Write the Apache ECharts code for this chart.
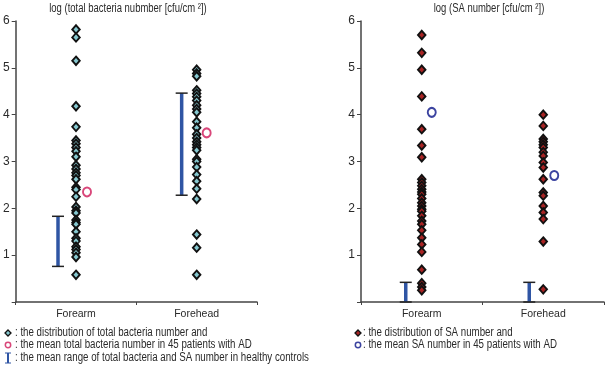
<!DOCTYPE html>
<html>
<head>
<meta charset="utf-8">
<script src="https://cdn.jsdelivr.net/npm/echarts@6/dist/echarts.min.js"></script>
<style>
  html, body { margin: 0; padding: 0; background: #fff; }
  #chart { width: 609px; height: 370px; }
</style>
</head>
<body>
<div id="chart"></div>
<script>
const categories = ["Forearm", "Forehead"];
const yTicks = [0, 1, 2, 3, 4, 5, 6];

// log total bacteria number, one value per patient
const totalForearm = [5.82, 5.65, 5.15, 4.18, 3.74, 3.45, 3.38, 3.30, 3.22, 3.10, 2.92, 2.84,
  2.76, 2.70, 2.62, 2.45, 2.40, 2.25, 2.03, 1.95, 1.90, 1.75, 1.70, 1.66, 1.50, 1.36, 1.30,
  1.18, 1.12, 1.05, 0.96, 0.58];
const totalForehead = [4.96, 4.88, 4.82, 4.52, 4.45, 4.38, 4.30, 4.20, 4.12, 4.05, 3.85, 3.72,
  3.58, 3.50, 3.42, 3.36, 3.30, 3.24, 3.05, 3.00, 2.88, 2.72, 2.58, 2.42, 2.20, 1.44, 1.16, 0.58];
const totalMeans = [2.35, 3.61];
const totalHealthy = [[0.76, 1.83], [2.28, 4.46]];

// log SA number
const saForearm = [5.70, 5.32, 4.96, 4.39, 3.69, 3.34, 3.09, 2.62, 2.55, 2.48, 2.41, 2.35,
  2.30, 2.21, 2.12, 2.05, 1.98, 1.94, 1.84, 1.73, 1.66, 1.53, 1.37, 1.23, 1.07, 0.69, 0.40,
  0.32, 0.25];
const saForehead = [4.00, 3.76, 3.48, 3.42, 3.36, 3.30, 3.20, 3.12, 2.98, 2.87, 2.62, 2.34,
  2.27, 2.05, 1.91, 1.77, 1.29, 0.27];
const saMeans = [4.05, 2.70];
const saHealthy = [[0, 0.42], [0, 0.42]];

const FONT = "'Liberation Sans', Arial, sans-serif";
const AXIS = "#444";
const TXT = "#2a2a2a";

function xAxis(gridIndex) {
  return {
    type: "category",
    gridIndex,
    data: categories,
    boundaryGap: true,
    axisLine: { lineStyle: { color: AXIS, width: 1.5 } },
    axisTick: { show: true, length: 3, lineStyle: { color: AXIS } },
    axisLabel: { color: TXT, fontFamily: FONT, fontSize: 10.5, margin: 7 },
  };
}

function yAxis(gridIndex) {
  return {
    type: "value",
    gridIndex,
    min: yTicks[0],
    max: yTicks[yTicks.length - 1],
    interval: 1,
    splitLine: { show: false },
    axisLine: { show: true, lineStyle: { color: AXIS, width: 1.5 } },
    axisTick: { show: true, length: 4, lineStyle: { color: AXIS } },
    axisLabel: {
      color: TXT, fontFamily: FONT, fontSize: 12, margin: 6,
      formatter: (v) => (v === 0 ? "" : String(v)),
    },
  };
}

function rangeSeries(idx, ranges, offsets) {
  return {
    type: "custom",
    xAxisIndex: idx,
    yAxisIndex: idx,
    data: ranges.map((r, i) => [i, r[0], r[1]]),
    encode: { x: 0, y: [1, 2] },
    renderItem(params, api) {
      const c = api.value(0);
      const lo = api.coord([c, api.value(1)]);
      const hi = api.coord([c, api.value(2)]);
      const x = lo[0] + offsets[c];
      return {
        type: "group",
        children: [
          { type: "line", shape: { x1: x, y1: lo[1], x2: x, y2: hi[1] },
            style: { stroke: "#2f55a4", lineWidth: 3.5 } },
          { type: "line", shape: { x1: x - 6, y1: hi[1], x2: x + 6, y2: hi[1] },
            style: { stroke: "#222", lineWidth: 1.5 } },
          { type: "line", shape: { x1: x - 6, y1: lo[1], x2: x + 6, y2: lo[1] },
            style: { stroke: "#222", lineWidth: 1.5 } },
        ],
      };
    },
    z: 1,
  };
}

function diamonds(idx, cat, values, fill) {
  return {
    type: "scatter",
    xAxisIndex: idx,
    yAxisIndex: idx,
    symbol: "diamond",
    symbolSize: [7.5, 8.5],
    itemStyle: { color: fill, borderColor: "#111", borderWidth: 1.9, opacity: 1 },
    data: values.map((v) => [cat, v]),
    z: 3,
  };
}

function means(idx, values, color, offsets) {
  return values.map((v, i) => ({
    type: "scatter",
    xAxisIndex: idx,
    yAxisIndex: idx,
    symbol: "circle",
    symbolSize: [8, 9],
    symbolOffset: [offsets[i], 0],
    itemStyle: { color: "#fff", borderColor: color, borderWidth: 2, opacity: 1 },
    data: [[categories[i], v]],
    z: 4,
  }));
}

// narrow text: the reference uses a condensed face, squeeze a normal one
const narrowText = (x, y, text, align, sx) => ({
  type: "text", x, y, scaleX: sx,
  style: { x: 0, y: 0, text, fill: TXT, font: "12px " + FONT,
           textAlign: align, textVerticalAlign: "middle" },
});

const chart = echarts.init(document.getElementById("chart"), null, { renderer: "canvas" });

chart.setOption({
  animation: false,
  grid: [
    { left: 13, top: 21, width: 244, height: 281 },
    { left: 361, top: 21, width: 243, height: 281 },
  ],
  xAxis: [xAxis(0), xAxis(1)],
  yAxis: [yAxis(0), yAxis(1)],
  series: [
    rangeSeries(0, totalHealthy, [-18, -15]),
    diamonds(0, categories[0], totalForearm, "#86c8d0"),
    diamonds(0, categories[1], totalForehead, "#86c8d0"),
    ...means(0, totalMeans, "#d9477a", [11, 10]),
    rangeSeries(1, saHealthy, [-16, -14]),
    diamonds(1, categories[0], saForearm, "#a82424"),
    diamonds(1, categories[1], saForehead, "#a82424"),
    ...means(1, saMeans, "#3c44a0", [10, 11]),
  ],
  graphic: [
    narrowText(128, 9, "log (total bacteria nubmber [cfu/cm \u00b2])", "center", 0.79),
    narrowText(489, 9, "log (SA number [cfu/cm \u00b2])", "center", 0.79),

    // legend, left panel
    { type: "polygon", shape: { points: [[8, 330], [11, 333], [8, 336], [5, 333]] },
      style: { fill: "#86c8d0", stroke: "#111", lineWidth: 1.3 } },
    narrowText(15, 333, ": the distribution of total bacteria number and", "left", 0.81),
    { type: "circle", shape: { cx: 8, cy: 345, r: 2.7 },
      style: { fill: "#fff", stroke: "#d9477a", lineWidth: 1.5 } },
    narrowText(15, 345, ": the mean total bacteria number in 45 patients with AD", "left", 0.81),
    { type: "line", shape: { x1: 8, y1: 353, x2: 8, y2: 363 },
      style: { stroke: "#2f55a4", lineWidth: 2 } },
    { type: "line", shape: { x1: 5, y1: 353, x2: 11, y2: 353 },
      style: { stroke: "#2f55a4", lineWidth: 1 } },
    { type: "line", shape: { x1: 5, y1: 363, x2: 11, y2: 363 },
      style: { stroke: "#2f55a4", lineWidth: 1 } },
    narrowText(15, 358, ": the mean range of total bacteria and SA number in healthy controls", "left", 0.81),

    // legend, right panel
    { type: "polygon", shape: { points: [[358, 330], [361, 333], [358, 336], [355, 333]] },
      style: { fill: "#a82424", stroke: "#111", lineWidth: 1.3 } },
    narrowText(363, 333, ": the distribution of SA number and", "left", 0.81),
    { type: "circle", shape: { cx: 358, cy: 345, r: 2.7 },
      style: { fill: "#fff", stroke: "#3c44a0", lineWidth: 1.5 } },
    narrowText(363, 345, ": the mean SA number in 45 patients with AD", "left", 0.81),
  ],
});
</script>
</body>
</html>
